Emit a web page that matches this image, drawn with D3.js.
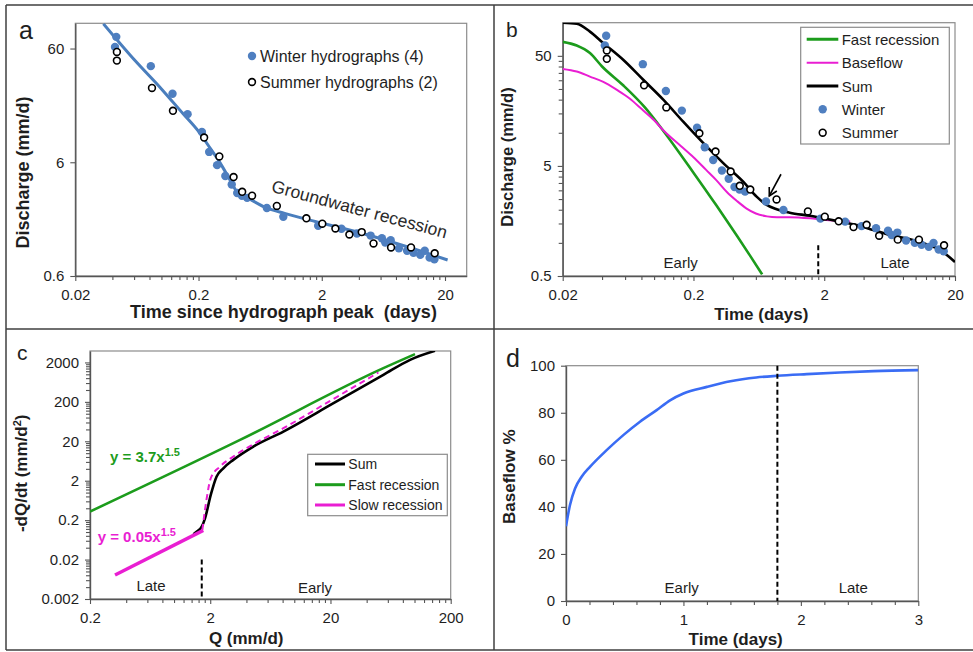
<!DOCTYPE html>
<html><head><meta charset="utf-8">
<script src="https://cdn.jsdelivr.net/npm/d3@7"></script>
<style>
body{margin:0;background:#fff;}
svg{display:block;font-family:"Liberation Sans",Arial,Helvetica,sans-serif;}
</style></head><body><script>
// ================= DATA =================
// Panels a & b: observed recession points (time since peak in days, discharge in mm/d)
const winterT = [0.043,0.042,0.082,0.123,0.163,0.213,0.244,0.283,0.33,0.372,0.412,0.45,0.496,0.717,0.975,1.87,2.89,3.86,4.98,6.15,6.55,7.25,8.45,9.85,11.1,12.6,13.7,15.0,16.4];
const winterQ = [76,62,42,24,15.9,11.1,7.4,5.66,4.55,3.82,3.22,3.05,2.92,2.38,1.99,1.66,1.56,1.42,1.36,1.29,1.18,1.24,1.05,1.0,0.96,0.92,1.0,0.87,0.84];
const summerT = [0.0435,0.0435,0.0838,0.124,0.222,0.295,0.385,0.452,0.544,0.864,1.5,2.02,2.58,3.35,4.22,5.26,7.3,10.6,16.5];
const summerQ = [56,47,27,17,9.9,6.75,4.45,3.3,3.05,2.48,1.93,1.73,1.57,1.39,1.46,1.16,1.07,1.07,0.95];

// Panel a: fitted recession line
const fitT = [0.0338,0.06,0.1,0.15,0.2,0.25,0.3,0.36,0.41,0.48,0.72,1.0,1.8,4.3,10,21];
const fitQ = [99,48,26.5,16,11.2,7.9,5.9,4.2,3.3,3.0,2.37,2.13,1.8,1.42,1.08,0.83];

// Panel b: model curves
const sumT  = [0.02,0.0256,0.0323,0.0409,0.058,0.0826,0.118,0.167,0.238,0.338,0.48,0.608,0.726,0.866,1.09,1.56,1.97,2.64,3.54,4.74,6.36,8.5,11.5,15.4,20];
const sumQ  = [100,97.7,83,65.2,46,30.3,19.9,12.6,8.04,5.3,3.6,2.63,2.21,2.02,1.88,1.76,1.67,1.56,1.45,1.31,1.18,1.1,0.99,0.86,0.67];
const fastT = [0.02,0.0256,0.0323,0.04,0.058,0.085,0.117,0.2,0.3,0.43,0.54,0.67];
const fastQ = [67,62,53,40,27,17,10.5,4.34,2.18,1.16,0.77,0.517];
const baseT = [0.02,0.0256,0.0323,0.0409,0.052,0.065,0.08,0.1,0.118,0.16,0.2,0.25,0.3,0.36,0.43,0.51,0.6,0.73,0.87,1.09,1.56,1.97,2.64,3.16];
const baseQ = [38,36,32.4,29,24.5,20.5,16.5,13,10.5,7.6,6.0,4.6,3.7,2.9,2.4,2.05,1.85,1.74,1.71,1.71,1.67,1.62,1.58,1.56];
const boundaryDays = 1.8;           // early / late boundary
const boundaryMarkTopQ = 0.95;      // top of dashed marker in panel b
const arrowFrom = [0.934, 4.2];     // arrow in panel b (days, mm/d)
const arrowTo   = [0.76, 2.67];

// Panel c: -dQ/dt vs Q
const cFastQ = [0.2,3.54,55.1,101];
const cFastR = [0.33,21.7,1430,3240];
const cSumQ  = [1.45,1.54,1.7,1.81,2.02,2.26,2.57,3.11,4.57,8.12,21.2,55.1,91.9,148];
const cSumR  = [0.088,0.102,0.137,0.223,0.87,2.55,4.14,6.75,14.7,35.3,185,968,2328,3940];
const cSlowQ = [0.323,1.75];
const cSlowR = [0.0081,0.11];
const cSlowDashQ = [1.72,1.87,2.02,2.41,3.11,4.57,8.12,21.2,50.1];
const cSlowDashR = [0.113,0.718,2.31,4.57,8.2,16.9,42.9,238,1111];
const boundaryQ = 1.7;
const boundaryMarkTopR = 0.02;

// Panel d: baseflow percentage
const dT   = [0,0.034,0.077,0.133,0.204,0.346,0.488,0.63,0.772,0.886,1.0,1.2,1.4,1.62,1.8,2.05,2.33,2.62,3.0];
const dPct = [31.8,40.8,47.8,52.8,57.0,64.1,70.5,76.2,81.1,85.3,88.2,91.0,93.4,95.0,95.7,96.4,97.1,97.7,98.1];

// Tick labels
const aXTicks = [0.02,0.2,2,20], aYTicks = [0.6,6,60];
const bXTicks = [0.02,0.2,2,20], bYTicks = [0.5,5,50];
const cXTicks = [0.2,2,20,200], cYTicks = [0.002,0.02,0.2,2,20,200,2000];
const dXTicks = [0,1,2,3], dYTicks = [0,20,40,60,80,100];

// ================= DRAWING =================
const W = 973, H = 652;
const TXT = "#1e1e1e", AX = "#555", FRAME = "#8c8c8c";
const GREEN = "#1c9c1c", MAG = "#e91ed2", STEEL = "#4a7ebd", DOT = "#4f7fc0", BLUE = "#3a6cf4";
const svg = d3.select("body").append("svg").attr("width", W).attr("height", H);

// figure frame
[[6,5,973,5],[6,329,973,329],[6,650,973,650],[6,5,6,650],[494,5,494,650]].forEach(l =>
  svg.append("line").attr("x1",l[0]).attr("y1",l[1]).attr("x2",l[2]).attr("y2",l[3])
    .attr("stroke","#3f3f3f").attr("stroke-width",1.5));

const zip = (a,b) => a.map((v,i)=>[v,b[i]]);
function logMinor(majors, dom){
  const out=[];
  majors.forEach(m=>{ for(let k=2;k<=9;k++){ const v=m*k; if(v>dom[0]&&v<dom[1]) out.push(v);} });
  return out;
}
let clipId=0;
function panel(box, x, y, o){
  const g = svg.append("g");
  g.append("rect").attr("x",box.l).attr("y",box.t).attr("width",box.r-box.l).attr("height",box.b-box.t)
    .attr("fill","none").attr("stroke",FRAME).attr("stroke-width",1.2);
  const fmt = d => String(d);
  const xg = g.append("g").attr("transform",`translate(0,${box.b})`)
    .call(d3.axisBottom(x).tickValues(o.xT).tickFormat(fmt).tickSize(5).tickSizeOuter(0).tickPadding(8));
  const yg = g.append("g").attr("transform",`translate(${box.l},0)`)
    .call(d3.axisLeft(y).tickValues(o.yT).tickFormat(fmt).tickSize(5).tickSizeOuter(0).tickPadding(6));
  if(o.xMinor){
    g.append("g").attr("class","minor").attr("transform",`translate(0,${box.b})`)
      .call(d3.axisBottom(x).tickValues(o.xMinor).tickFormat("").tickSize(4).tickSizeOuter(0));
  }
  if(o.yMinor){
    g.append("g").attr("class","minor").attr("transform",`translate(${box.l},0)`)
      .call(d3.axisLeft(y).tickValues(o.yMinor).tickFormat("").tickSize(4).tickSizeOuter(0));
  }
  g.selectAll(".minor path.domain").remove();
  g.selectAll("path.domain").attr("stroke",AX).attr("stroke-width",1.4);
  g.selectAll(".tick line").attr("stroke",AX).attr("stroke-width",1.1);
  g.selectAll(".tick text").attr("font-size",15).attr("fill",TXT).attr("font-family",'"Liberation Sans",Arial,sans-serif');
  [xg,yg].forEach(a=>a.attr("font-family",null).attr("font-size",null));
  const id = "clip"+(clipId++);
  svg.append("clipPath").attr("id",id).append("rect").attr("x",box.l).attr("y",box.t)
     .attr("width",box.r-box.l).attr("height",box.b-box.t);
  const plot = svg.append("g").attr("clip-path",`url(#${id})`);
  return {g, plot};
}
function text(s, x, y, opt={}){
  const t = svg.append("text").attr("x",x).attr("y",y).text(s)
    .attr("font-size",opt.size||15).attr("fill",opt.fill||TXT)
    .attr("font-weight",opt.bold?"bold":"normal").attr("text-anchor",opt.anchor||"start");
  if(opt.rot!==undefined) t.attr("transform",`rotate(${opt.rot},${x},${y})`);
  return t;
}

// ---------- Panel a ----------
{
  const box={l:75.3,r:466.7,t:23.3,b:276};
  const x=d3.scaleLog().domain([0.02,30]).range([box.l,box.r]);
  const y=d3.scaleLog().domain([0.6,100]).range([box.b,box.t]);
  const {plot}=panel(box,x,y,{xT:aXTicks,yT:aYTicks,xMinor:logMinor(aXTicks,[0.02,30])});
  const line=d3.line().x(d=>x(d[0])).y(d=>y(d[1])).curve(d3.curveMonotoneX);
  plot.append("path").attr("d",line(zip(fitT,fitQ))).attr("fill","none").attr("stroke",STEEL).attr("stroke-width",3);
  plot.selectAll(".w").data(zip(winterT,winterQ)).join("circle")
    .attr("cx",d=>x(d[0])).attr("cy",d=>y(d[1])).attr("r",4.2).attr("fill",DOT);
  plot.selectAll(".s").data(zip(summerT,summerQ)).join("circle")
    .attr("cx",d=>x(d[0])).attr("cy",d=>y(d[1])).attr("r",3.4).attr("fill","#fff").attr("stroke","#000").attr("stroke-width",1.6);
  // legend
  svg.append("circle").attr("cx",252).attr("cy",56).attr("r",4.2).attr("fill",DOT);
  text("Winter hydrographs (4)",260,61.5,{size:16});
  svg.append("circle").attr("cx",252).attr("cy",82).attr("r",3.4).attr("fill","#fff").attr("stroke","#000").attr("stroke-width",1.6);
  text("Summer hydrographs (2)",260,87.5,{size:16});
  text("Groundwater recession",358,215,{size:17.5,anchor:"middle",rot:15,fill:"#2a2a2a"});
  text("a",19,39,{size:25});
  text("Discharge (mm/d)",29,172.5,{size:18,bold:true,anchor:"middle",rot:-90});
  text("Time since hydrograph peak  (days)",283.5,318,{size:18,bold:true,anchor:"middle"}).style("white-space","pre");
}

// ---------- Panel b ----------
{
  const box={l:562.7,r:955,t:22.7,b:276};
  const x=d3.scaleLog().domain([0.02,20]).range([box.l,box.r]);
  const y=d3.scaleLog().domain([0.5,100]).range([box.b,box.t]);
  const yMinor=logMinor(bYTicks,[0.5,100]);
  const {plot}=panel(box,x,y,{xT:bXTicks,yT:bYTicks,xMinor:logMinor(bXTicks,[0.02,20]),yMinor});
  const line=d3.line().x(d=>x(d[0])).y(d=>y(d[1])).curve(d3.curveMonotoneX);
  plot.append("path").attr("d",line(zip(fastT,fastQ))).attr("fill","none").attr("stroke",GREEN).attr("stroke-width",2.6);
  plot.append("path").attr("d",line(zip(baseT,baseQ))).attr("fill","none").attr("stroke",MAG).attr("stroke-width",2);
  plot.append("path").attr("d",line(zip(sumT,sumQ))).attr("fill","none").attr("stroke","#000").attr("stroke-width",2.6);
  plot.selectAll(".w").data(zip(winterT,winterQ)).join("circle")
    .attr("cx",d=>x(d[0])).attr("cy",d=>y(d[1])).attr("r",4.2).attr("fill",DOT);
  plot.selectAll(".s").data(zip(summerT,summerQ)).join("circle")
    .attr("cx",d=>x(d[0])).attr("cy",d=>y(d[1])).attr("r",3.4).attr("fill","#fff").attr("stroke","#000").attr("stroke-width",1.6);
  svg.append("line").attr("x1",x(boundaryDays)).attr("x2",x(boundaryDays)).attr("y1",y(boundaryMarkTopQ)).attr("y2",box.b)
    .attr("stroke","#000").attr("stroke-width",2).attr("stroke-dasharray","5,3");
  // arrow
  const ax1=x(arrowFrom[0]), ay1=y(arrowFrom[1]), ax2=x(arrowTo[0]), ay2=y(arrowTo[1]);
  svg.append("line").attr("x1",ax1).attr("y1",ay1).attr("x2",ax2).attr("y2",ay2).attr("stroke","#000").attr("stroke-width",1.6);
  const ang=Math.atan2(ay2-ay1,ax2-ax1), L=9;
  const p1=[ax2-L*Math.cos(ang-0.5),ay2-L*Math.sin(ang-0.5)], p2=[ax2-L*Math.cos(ang+0.5),ay2-L*Math.sin(ang+0.5)];
  svg.append("path").attr("d",`M${p1}L${ax2},${ay2}L${p2}`).attr("fill","none").attr("stroke","#000").attr("stroke-width",1.6);
  text("Early",680.7,268,{size:15,anchor:"middle"});
  text("Late",895,268,{size:15,anchor:"middle"});
  // legend
  svg.append("rect").attr("x",800.7).attr("y",27.3).attr("width",148.6).attr("height",116.7).attr("fill","#fff").attr("stroke",FRAME).attr("stroke-width",1.2);
  const rows=[39.3,62.7,86,109.3,132.7];
  const leg=[["Fast recession",GREEN,3],["Baseflow",MAG,2],["Sum","#000",3]];
  leg.forEach((l,i)=>{
    svg.append("line").attr("x1",806.7).attr("x2",838.3).attr("y1",rows[i]).attr("y2",rows[i]).attr("stroke",l[1]).attr("stroke-width",l[2]);
    text(l[0],841.7,rows[i]+5.5,{size:15});
  });
  svg.append("circle").attr("cx",822.7).attr("cy",rows[3]).attr("r",4.2).attr("fill",DOT);
  text("Winter",841.7,rows[3]+5.5,{size:15});
  svg.append("circle").attr("cx",822.7).attr("cy",rows[4]).attr("r",3.4).attr("fill","#fff").attr("stroke","#000").attr("stroke-width",1.6);
  text("Summer",841.7,rows[4]+5.5,{size:15});
  text("b",506,36.7,{size:21});
  text("Discharge (mm/d)",513.3,157,{size:16.5,bold:true,anchor:"middle",rot:-90});
  text("Time (days)",761.3,319.5,{size:17,bold:true,anchor:"middle"});
}

// ---------- Panel c ----------
{
  const box={l:90,r:450.7,t:351,b:599};
  const x=d3.scaleLog().domain([0.2,200]).range([box.l,box.r]);
  const y=d3.scaleLog().domain([0.002,3900]).range([box.b,box.t]);
  const {plot}=panel(box,x,y,{xT:cXTicks,yT:cYTicks,xMinor:logMinor(cXTicks,[0.2,200]),yMinor:logMinor(cYTicks,[0.002,3900])});
  const line=d3.line().x(d=>x(d[0])).y(d=>y(d[1])).curve(d3.curveMonotoneX);
  plot.append("path").attr("d",line(zip(cFastQ,cFastR))).attr("fill","none").attr("stroke",GREEN).attr("stroke-width",2.6);
  plot.append("path").attr("d",line(zip(cSumQ,cSumR))).attr("fill","none").attr("stroke","#000").attr("stroke-width",2.6);
  plot.append("path").attr("d",line(zip(cSlowQ,cSlowR))).attr("fill","none").attr("stroke",MAG).attr("stroke-width",3.4);
  plot.append("path").attr("d",line(zip(cSlowDashQ,cSlowDashR))).attr("fill","none").attr("stroke",MAG).attr("stroke-width",2).attr("stroke-dasharray","6,4");
  svg.append("line").attr("x1",x(boundaryQ)).attr("x2",x(boundaryQ)).attr("y1",y(boundaryMarkTopR)).attr("y2",box.b)
    .attr("stroke","#000").attr("stroke-width",2).attr("stroke-dasharray","5,3");
  text("Late",151,591,{size:15,anchor:"middle"});
  text("Early",315,593,{size:15,anchor:"middle"});
  // equations
  const e1=text("y = 3.7x",110,462,{size:15,bold:true,fill:GREEN});
  e1.append("tspan").attr("dy",-6).attr("font-size",11).text("1.5");
  const e2=text("y = 0.05x",97.7,541.5,{size:15,bold:true,fill:MAG});
  e2.append("tspan").attr("dy",-6).attr("font-size",11).text("1.5");
  // legend
  svg.append("rect").attr("x",307.7).attr("y",454.3).attr("width",139.6).attr("height",61.4).attr("fill","#fff").attr("stroke",FRAME).attr("stroke-width",1.2);
  const rows=[464,484.7,505];
  [["Sum","#000"],["Fast recession",GREEN],["Slow recession",MAG]].forEach((l,i)=>{
    svg.append("line").attr("x1",315).attr("x2",345).attr("y1",rows[i]).attr("y2",rows[i]).attr("stroke",l[1]).attr("stroke-width",3);
    text(l[0],348.3,rows[i]+5,{size:14});
  });
  text("c",17,360,{size:21});
  const yl=text("-dQ/dt (mm/d",27,473.3,{size:17,bold:true,anchor:"middle",rot:-90});
  yl.append("tspan").attr("dy",-6).attr("font-size",11).text("2");
  yl.append("tspan").attr("dy",6).text(")");
  text("Q (mm/d)",246.2,644,{size:17,bold:true,anchor:"middle"});
}

// ---------- Panel d ----------
{
  const box={l:566,r:918.3,t:365.7,b:601};
  const x=d3.scaleLinear().domain([0,3]).range([box.l,box.r]);
  const y=d3.scaleLinear().domain([0,100]).range([box.b,box.t]);
  const xMinor=d3.range(0,3.0001,0.2).filter(v=>Math.abs(v-Math.round(v))>1e-6);
  const {plot}=panel(box,x,y,{xT:dXTicks,yT:dYTicks,xMinor});
  const line=d3.line().x(d=>x(d[0])).y(d=>y(d[1])).curve(d3.curveMonotoneX);
  plot.append("path").attr("d",line(zip(dT,dPct))).attr("fill","none").attr("stroke",BLUE).attr("stroke-width",2.6);
  svg.append("line").attr("x1",x(boundaryDays)).attr("x2",x(boundaryDays)).attr("y1",box.t).attr("y2",box.b)
    .attr("stroke","#000").attr("stroke-width",2).attr("stroke-dasharray","5,3");
  text("Early",681.7,593,{size:15,anchor:"middle"});
  text("Late",853.3,593,{size:15,anchor:"middle"});
  text("d",506,366.7,{size:25});
  text("Baseflow %",515.5,476.7,{size:17,bold:true,anchor:"middle",rot:-90});
  text("Time (days)",735.7,644.5,{size:17,bold:true,anchor:"middle"});
}
</script></body></html>
